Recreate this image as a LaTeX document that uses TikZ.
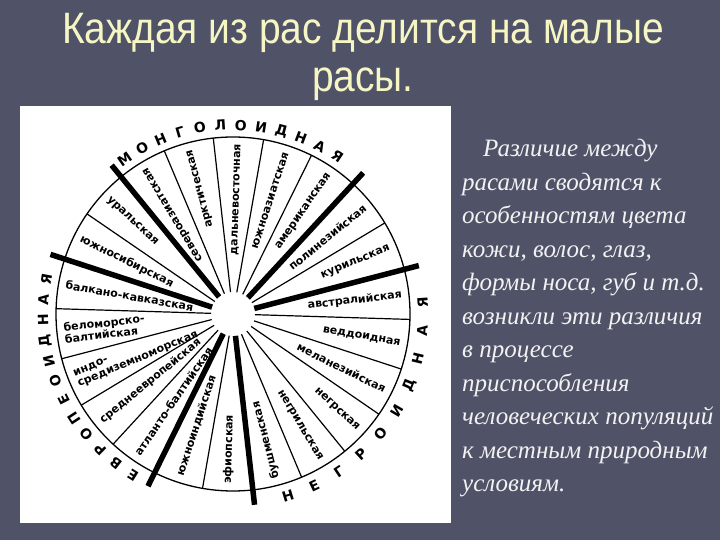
\documentclass[tikz,border=0pt]{standalone}
\usepackage{fontspec}
\setmainfont{Liberation Serif}
\newfontfamily\titlefont{Liberation Sans}[FakeStretch=0.885]
\newfontfamily\lblfont{DejaVu Sans}
\newfontfamily\bodyfont{Liberation Serif}
\usetikzlibrary{calc}
\definecolor{bg}{RGB}{80,82,104}
\definecolor{titlecol}{RGB}{246,246,196}
\definecolor{bodycol}{RGB}{242,242,242}
\begin{document}
\begin{tikzpicture}[x=1pt,y=1pt,
  lbl/.style={font=\lblfont\bfseries\fontsize{11}{11.5}\selectfont, inner sep=0pt, align=left},
  arcletter/.style={font=\lblfont\bfseries\fontsize{14}{14}\selectfont, inner sep=0pt},
  spoke/.style={line width=1.2pt},
  thickspoke/.style={line width=5.5pt},
  titletext/.style={font=\titlefont\fontsize{44}{48}\selectfont, text=titlecol, inner sep=0pt, anchor=base},
  bodytext/.style={font=\bodyfont\itshape\fontsize{25}{28}\selectfont, text=bodycol, inner sep=0pt, anchor=base west}]
\useasboundingbox (0,0) rectangle (720,540);
\fill[bg] (0,0) rectangle (720,540);
\fill[white] (20,17) rectangle (451,434);
% title
\node[titletext] (t1) at (363,496) {Каждая из рас делится на малые};
\node[titletext] (t2) at (363,448) {расы.};
% circle
\coordinate (C) at (233,226);
\draw[line width=1.3pt] (C) circle (177);
\foreach \k in {0,1,2,4,6,7,8,9,10,12,14,15,16,17,19,21}{
  \draw[spoke] ($(C)+(96.4-16.36*\k:22)$) -- ($(C)+(96.4-16.36*\k:177)$);
}
\foreach \k in {3,5,11,13,18,20}{
  \draw[thickspoke] ($(C)+(96.4-16.36*\k:22)$) -- ($(C)+(96.4-16.36*\k:192)$);
}
% outward-reading labels
\foreach \s/\txt in {0/дальневосточная,1/южноазиатская,2/американская,3/полинезийская,
  4/курильская,5/австралийская,6/веддоидная,7/меланезийская,8/негрская,9/негрильская,
  20/североазиатская,21/арктическая}{
  \pgfmathsetmacro\m{88.2-16.36*\s}
  \node[lbl, rotate=\m, anchor=east] (l\s) at ($(C)+(\m:170)$) {\txt};
}
% inward-reading labels
\foreach \s/\txt in {10/бушменская,11/эфиопская,12/южноиндийская,13/атланто-балтийская,
  14/среднеевропейская,15/{индо-\\средиземноморская},16/{беломорско-\\балтийская},
  17/балкано-кавказская,18/южносибирская,19/уральская}{
  \pgfmathsetmacro\m{88.2-16.36*\s}
  \node[lbl, rotate=\m+180, anchor=west] (l\s) at ($(C)+(\m:170)$) {\txt};
}
% arc letters
\foreach \ch [count=\i from 0] in {М,О,Н,Г,О,Л,О,И,Д,Н,А,Я}{
  \pgfmathsetmacro\a{125-6.23*\i}
  \node[arcletter, rotate=\a-90] (m\i) at ($(C)+(\a:189)$) {\ch};
}
\foreach \ch [count=\i from 0] in {Е,В,Р,О,П,Е,О,И,Д,Н,А,Я}{
  \pgfmathsetmacro\a{238.2-6.26*\i}
  \node[arcletter, rotate=\a-90] (e\i) at ($(C)+(\a:190)$) {\ch};
}
\foreach \ch [count=\i from 0] in {Н,Е,Г,Р,О,И,Д,Н,А,Я}{
  \pgfmathsetmacro\a{-73.2+8.53*\i}
  \node[arcletter, rotate=\a+90] (n\i) at ($(C)+(\a:190)$) {\ch};
}
% body text
\node[bodytext] (b1) at (483,383) {Различие между};
\node[bodytext] (b2) at (462,349.5) {расами сводятся к};
\node[bodytext] (b3) at (462,316) {особенностям цвета};
\node[bodytext] (b4) at (462,282.5) {кожи, волос, глаз,};
\node[bodytext] (b5) at (462,249) {формы носа, губ и т.д.};
\node[bodytext] (b6) at (462,215.5) {возникли эти различия};
\node[bodytext] (b7) at (462,182) {в процессе};
\node[bodytext] (b8) at (462,148.5) {приспособления};
\node[bodytext] (b9) at (462,115) {человеческих популяций};
\node[bodytext] (b10) at (462,81.5) {к местным природным};
\node[bodytext] (b11) at (462,48) {условиям.};
\end{tikzpicture}
\end{document}
